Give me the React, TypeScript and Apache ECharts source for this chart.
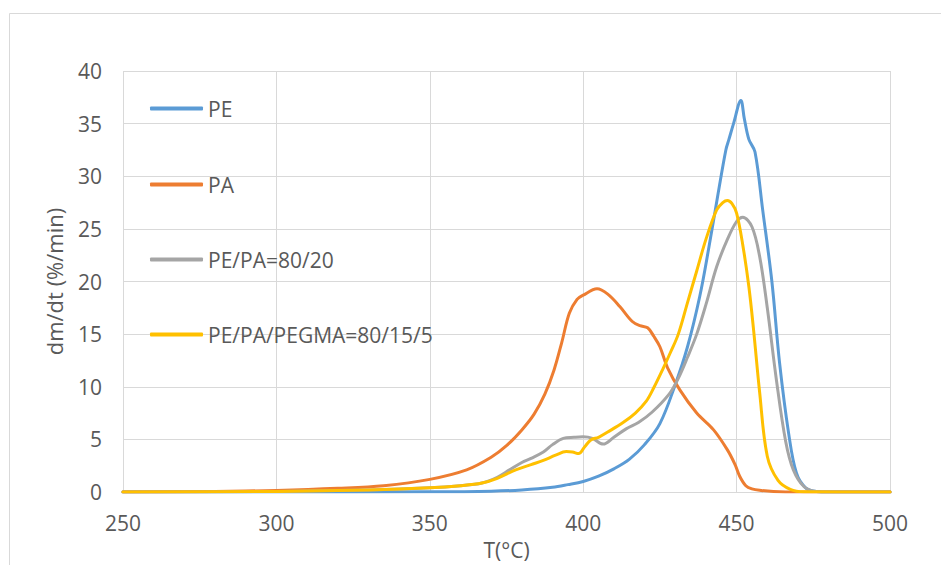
import React, { useEffect, useRef } from "react";
import * as echarts from "echarts";

const seriesNames = ["PE", "PA", "PE/PA=80/20", "PE/PA/PEGMA=80/15/5"];
const seriesColors = ["#5B9BD5", "#ED7D31", "#A5A5A5", "#FFC000"];

const peT = [250, 300, 350, 370, 380, 390, 395, 400, 405, 410, 415, 420, 425, 430, 434, 438, 441, 444, 446.5, 447.5, 449, 451.4, 452.5, 454, 456, 458.5, 461.5, 464, 467, 469.5, 472.5, 476, 480, 500];
const peV = [0, 0, 0.02, 0.08, 0.2, 0.45, 0.7, 1.0, 1.5, 2.2, 3.1, 4.5, 6.5, 10.2, 13.8, 18.6, 23.3, 28.4, 32.5, 33.5, 35, 37.2, 35.5, 33.5, 32.3, 26.8, 20, 12.3, 5.5, 1.8, 0.4, 0.05, 0, 0];

const paT = [250, 280, 300, 320, 335, 350, 362, 370, 375, 380, 384, 387.5, 390.5, 393, 395.5, 398, 400, 404.5, 408, 412, 416, 418.5, 421, 423, 425, 427.5, 431.5, 437, 442.5, 447, 449.5, 451, 453, 455, 458, 462, 470, 500];
const paV = [0, 0.05, 0.15, 0.35, 0.6, 1.2, 2.1, 3.3, 4.4, 5.9, 7.4, 9.3, 11.6, 14.2, 17.0, 18.3, 18.7, 19.3, 18.8, 17.6, 16.2, 15.8, 15.6, 14.8, 13.8, 11.8, 9.7, 7.5, 5.9, 4.0, 2.6, 1.5, 0.6, 0.3, 0.15, 0.05, 0, 0];

const blendT = [250, 300, 330, 350, 360, 367, 372, 376, 380, 383, 387, 390, 393.5, 397, 400, 403, 406.5, 410, 414, 418, 422.5, 428, 431, 434, 437, 440, 443.5, 447, 450, 452, 455, 457.5, 460, 463, 466, 468.5, 472, 476, 480, 500];
const blendV = [0, 0.05, 0.2, 0.4, 0.6, 0.85, 1.4, 2.1, 2.8, 3.2, 3.8, 4.5, 5.1, 5.2, 5.25, 5.1, 4.55, 5.2, 6.0, 6.6, 7.6, 9.3, 10.8, 12.8, 15.0, 17.8, 21.4, 24.0, 25.7, 26.1, 25.2, 22.4, 17.5, 10.6, 4.8, 2.1, 0.5, 0.05, 0, 0];

const pegmaT = [250, 300, 330, 350, 360, 367, 372, 378, 383, 387, 391, 394.5, 396.5, 398.5, 400.5, 402.5, 405, 408, 413, 417, 420.5, 423, 426, 428.5, 431, 434, 437, 440, 443.5, 445.5, 447, 448.5, 450, 452, 454, 455.5, 457.5, 460, 463.5, 467.5, 472, 500];
const pegmaV = [0, 0.05, 0.2, 0.4, 0.6, 0.85, 1.3, 2.1, 2.6, 3.0, 3.5, 3.85, 3.8, 3.65, 4.3, 4.95, 5.2, 5.7, 6.6, 7.5, 8.6, 9.9, 11.7, 13.3, 15.0, 18.0, 21.0, 24.0, 26.8, 27.5, 27.7, 27.4, 26.5, 23.5, 19.5, 15.5, 9.5, 3.4, 1.1, 0.25, 0.02, 0];

const xTicks = { min: 250, max: 500, interval: 50 };
const yTicks = { min: 0, max: 40, interval: 5 };

const allT = [peT, paT, blendT, pegmaT];
const allV = [peV, paV, blendV, pegmaV];
const legendTops = [93, 169, 244, 319];

const FONT = "'Open Sans', 'Noto Sans', sans-serif";

export default function App() {
  const ref = useRef<HTMLDivElement>(null);
  useEffect(() => {
    if (!ref.current) return;
    const chart = echarts.init(ref.current, null, { renderer: "svg" });
    chart.setOption({
      animation: false,
      backgroundColor: "#ffffff",
      graphic: [
        {
          type: "rect",
          shape: { x: 9.5, y: 13.5, width: 1000, height: 1000 },
          style: { fill: "none", stroke: "#d9d9d9", lineWidth: 1 },
          silent: true,
        },
      ],
      grid: { left: 123, right: 51, top: 71, bottom: 73 },
      legend: seriesNames.map((n, i) => ({
        data: [n],
        orient: "vertical",
        left: 145,
        top: legendTops[i],
        icon: "roundRect",
        itemWidth: 53,
        itemHeight: 4,
        itemGap: 0,
        textStyle: { fontFamily: FONT, fontSize: 21, color: "#595959" },
      })),
      xAxis: {
        type: "value",
        min: xTicks.min,
        max: xTicks.max,
        interval: xTicks.interval,
        name: "T(°C)",
        nameLocation: "middle",
        nameGap: 47,
        nameTextStyle: { fontFamily: FONT, fontSize: 21, color: "#595959" },
        axisLine: { show: true, lineStyle: { color: "#d9d9d9", width: 1 } },
        axisTick: { show: false },
        axisLabel: { fontFamily: FONT, fontSize: 21, color: "#595959", margin: 20 },
        splitLine: { show: true, lineStyle: { color: "#d9d9d9", width: 1 } },
      },
      yAxis: {
        type: "value",
        min: yTicks.min,
        max: yTicks.max,
        interval: yTicks.interval,
        name: "dm/dt (%/min)",
        nameLocation: "middle",
        nameGap: 58,
        nameTextStyle: { fontFamily: FONT, fontSize: 22, color: "#595959" },
        axisLine: { show: false },
        axisTick: { show: false },
        axisLabel: { fontFamily: FONT, fontSize: 21, color: "#595959", margin: 21 },
        splitLine: { show: true, lineStyle: { color: "#d9d9d9", width: 1 } },
      },
      series: seriesNames.map((n, i) => ({
        name: n,
        type: "line",
        data: allT[i].map((t, j) => [t, allV[i][j]]),
        showSymbol: false,
        symbol: "none",
        smooth: 0.35,
        color: seriesColors[i],
        lineStyle: { width: 3, color: seriesColors[i], cap: "round", join: "round" },
        z: 2 + i,
      })),
    });
    return () => chart.dispose();
  }, []);
  return (
    <div
      ref={ref}
      style={{ position: "fixed", left: 0, top: 0, width: 941, height: 565 }}
    />
  );
}
